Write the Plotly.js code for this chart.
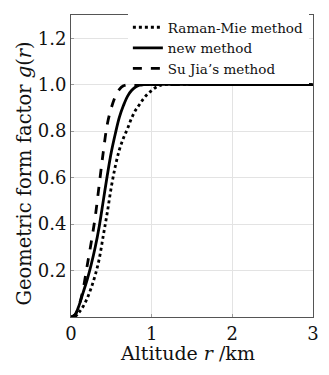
<!DOCTYPE html>
<html>
<head>
<meta charset="utf-8">
<script src="https://cdn.plot.ly/plotly-3.0.1.min.js"></script>
<style>html,body{margin:0;padding:0;background:#fff;}#chart{width:329px;height:375px;}</style>
</head>
<body>
<div id="chart"></div>
<script>
// Altitude r (km)
const ramanX = [0.05,0.1,0.15,0.2,0.25,0.3,0.35,0.4,0.45,0.5,0.55,0.6,0.65,0.7,0.75,0.8,0.85,0.9,0.95,1.0,1.05,1.1,1.15,2,3];
const ramanY = [0,0.02,0.045,0.08,0.125,0.18,0.25,0.35,0.45,0.56,0.65,0.72,0.77,0.81,0.855,0.89,0.915,0.94,0.96,0.975,0.988,0.996,1,1,1];

const newX = [0,0.05,0.1,0.15,0.2,0.25,0.3,0.35,0.4,0.45,0.5,0.55,0.6,0.65,0.7,0.75,0.8,0.85,0.9,2,3];
const newY = [0,0.01,0.05,0.105,0.16,0.225,0.3,0.39,0.5,0.61,0.71,0.79,0.86,0.91,0.95,0.975,0.99,0.998,1,1,1];

const suX = [0,0.05,0.1,0.15,0.2,0.25,0.3,0.35,0.4,0.45,0.5,0.55,0.6,0.65,0.7,0.75,1,2,3];
const suY = [0,0.01,0.05,0.12,0.22,0.32,0.43,0.57,0.71,0.83,0.9,0.95,0.98,0.995,1,1,1,1,1];

const names = ["Raman-Mie method", "new method", "Su Jia\u2019s method"];
const xTicks = [0,1,2,3];
const yTicks = [0.2,0.4,0.6,0.8,1.0,1.2];
const yTickText = ["0.2","0.4","0.6","0.8","1.0","1.2"];
const xTitle = "Altitude <i>r</i> /km";
const yTitle = "Geometric form factor <i>g</i>(<i>r</i>)";

const F = "DejaVu Serif, Liberation Serif, serif";

const traces = [
  {x: ramanX, y: ramanY, name: names[0], mode: "lines", line: {color: "#000", width: 2.8, dash: "dot", shape: "spline"}},
  {x: newX, y: newY, name: names[1], mode: "lines", line: {color: "#000", width: 2.8, dash: "solid", shape: "spline"}},
  {x: suX, y: suY, name: names[2], mode: "lines", line: {color: "#000", width: 2.8, dash: "dash", shape: "spline"}}
];

const axisCommon = {
  showline: true, mirror: true, linecolor: "#555", linewidth: 1,
  showgrid: true, gridcolor: "#e3e3e3", gridwidth: 1,
  zeroline: false, ticks: "inside", ticklen: 3, tickcolor: "#999",
  tickfont: {family: F, size: 18, color: "#111"}
};

const layout = {
  width: 329, height: 375,
  margin: {l: 71, r: 16, t: 13, b: 58},
  paper_bgcolor: "#fff", plot_bgcolor: "#fff",
  font: {family: F, color: "#111"},
  showlegend: true,
  legend: {x: 0.235, y: 1.01, xanchor: "left", yanchor: "top", bgcolor: "#fff", borderwidth: 0,
           font: {family: F, size: 13.5, color: "#111"}, tracegroupgap: 0},
  xaxis: Object.assign({}, axisCommon, {
    range: [0, 3], tickvals: xTicks, ticktext: xTicks.map(String)
  }),
  yaxis: Object.assign({}, axisCommon, {
    range: [0, 1.3], tickvals: yTicks, ticktext: yTickText
  }),
  annotations: [
    {text: xTitle, xref: "paper", yref: "paper", x: 0.48, y: -0.12, xanchor: "center", yanchor: "middle",
     showarrow: false, font: {family: F, size: 19, color: "#111"}},
    {text: yTitle, xref: "paper", yref: "paper", x: -0.19, y: 0.475, xanchor: "center", yanchor: "middle",
     textangle: -90, showarrow: false, font: {family: F, size: 19.5, color: "#111"}}
  ]
};

Plotly.newPlot("chart", traces, layout, {displayModeBar: false, staticPlot: true});
</script>
</body>
</html>
